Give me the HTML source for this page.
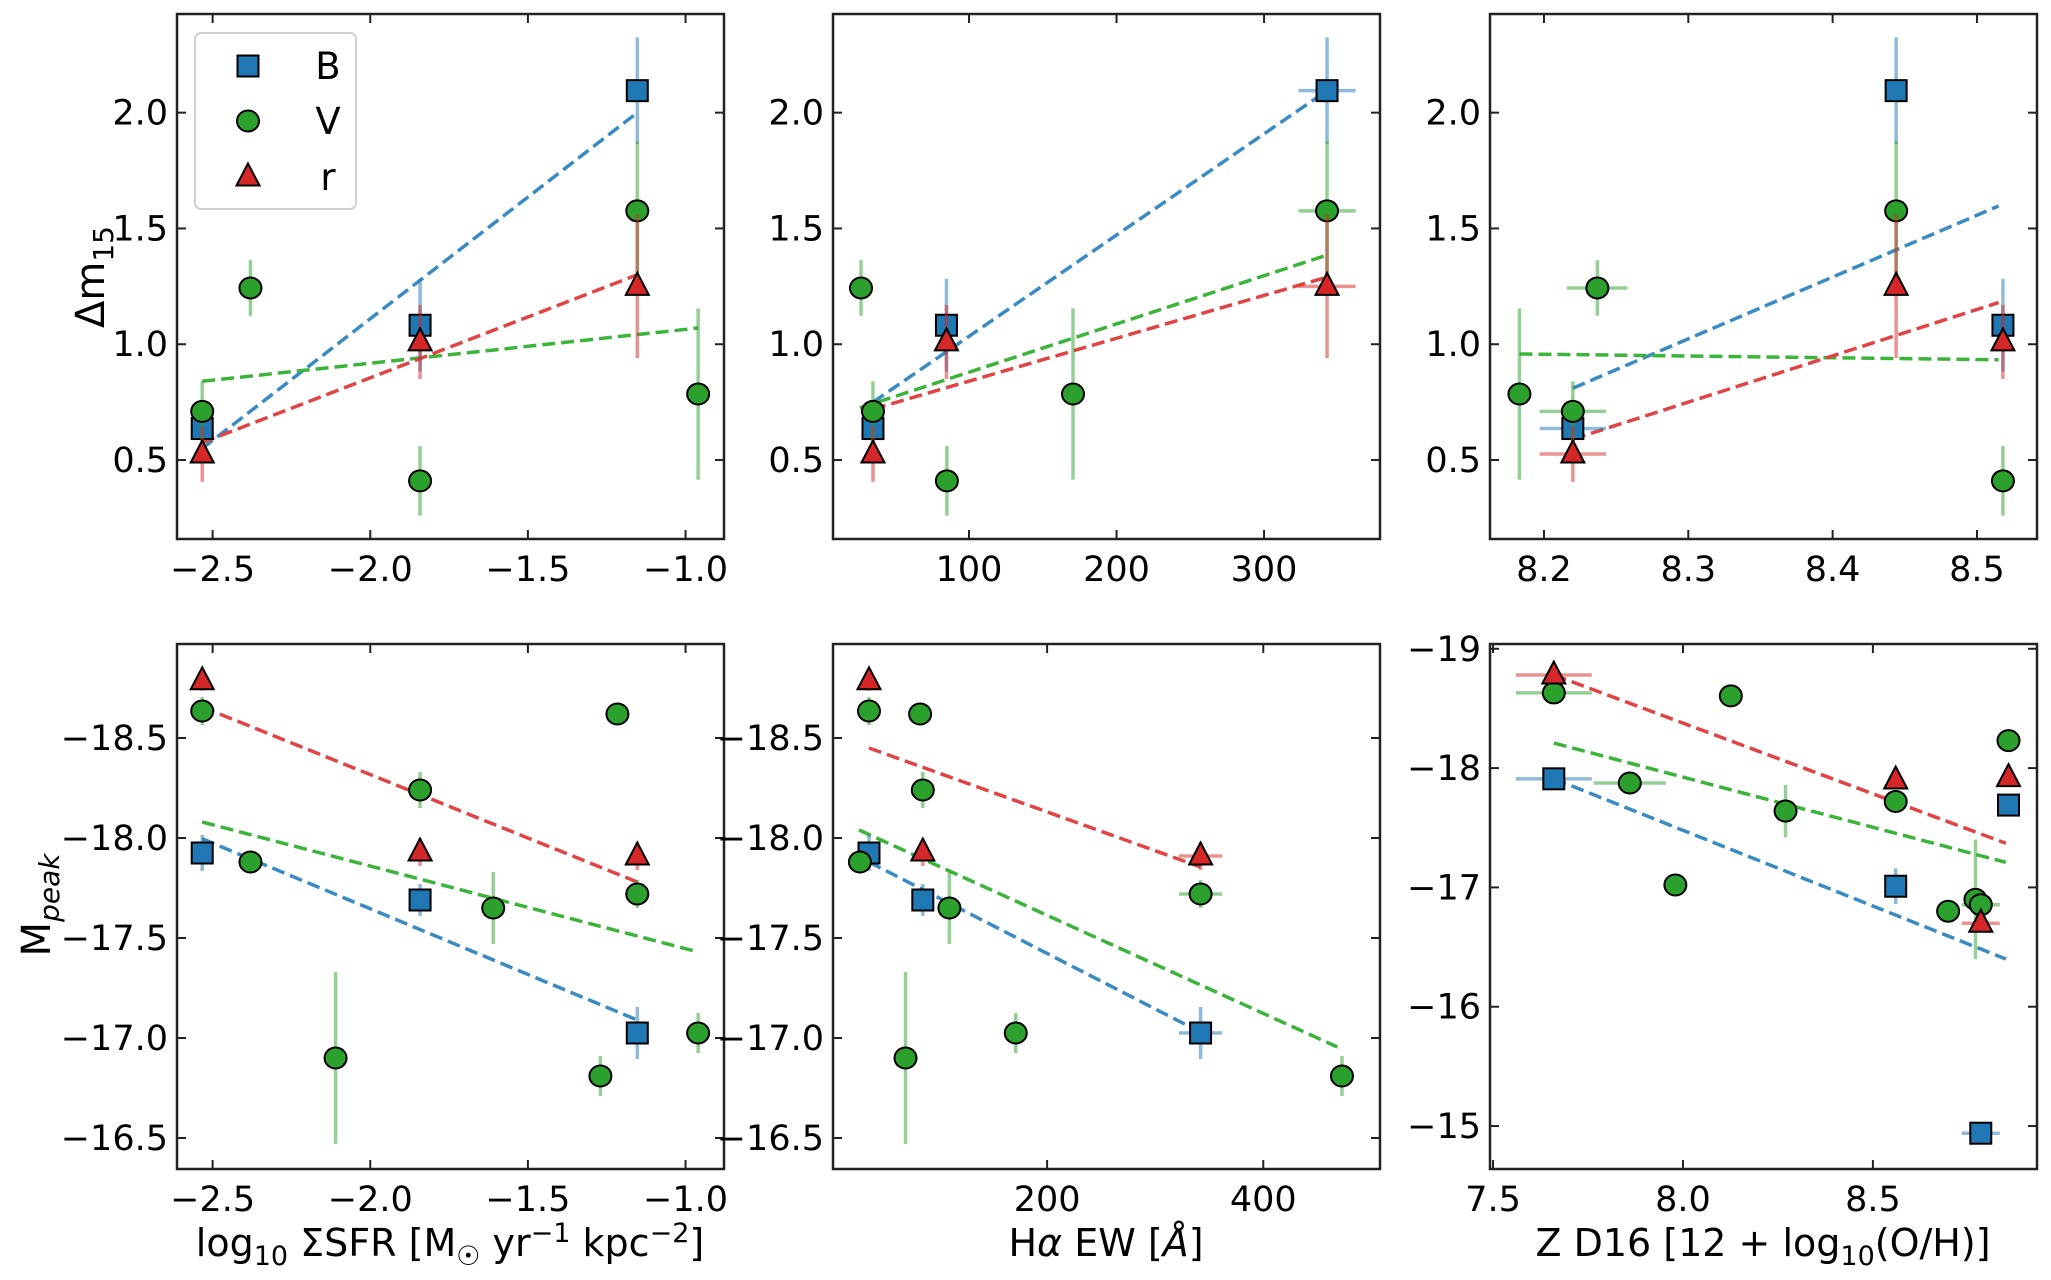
<!DOCTYPE html>
<html><head><meta charset="utf-8">
<style>
html,body{margin:0;padding:0;background:#fff;}
svg{display:block;font-family:"DejaVu Sans","Liberation Sans",sans-serif;}
</style></head>
<body>
<svg id="fig" width="2051" height="1280" viewBox="0 0 2051 1280" xmlns="http://www.w3.org/2000/svg"></svg>
<script>
// ---------- DATA ----------
const dmB_y = [0.636, 1.082, 2.095];
const dmB_err = [0.12, 0.2, 0.23];
const dmV_y = [0.71, 1.243, 0.41, 1.576, 0.785];
const dmV_err = [0.13, 0.12, 0.15, 0.3, 0.37];
const dmr_y = [0.526, 1.01, 1.25];
const dmr_err = [0.12, 0.16, 0.31];

const sfrB_x = [-2.533, -1.842, -1.153];
const sfrV_x = [-2.533, -2.38, -1.842, -1.153, -0.96];
const sfrr_x = [-2.533, -1.842, -1.153];
const ewB_x = [34.9, 84.7, 342.7];
const ewV_x = [34.9, 26.8, 85, 342.7, 170.5];
const ewr_x = [34.9, 84.7, 342.7];
const ewB_xerr = [0, 0, 19.4];
const ewV_xerr = [0, 0, 0, 19.4, 0];
const ewr_xerr = [0, 0, 19.4];
const zB_x = [8.22, 8.518, 8.444];
const zV_x = [8.22, 8.237, 8.518, 8.444, 8.183];
const zr_x = [8.22, 8.518, 8.444];
const zB_xerr = [0.023, 0, 0];
const zV_xerr = [0.023, 0.021, 0, 0, 0];
const zr_xerr = [0.023, 0, 0];

const fitSfrDm = {B:[-2.533,-1.153,0.55,2.0], V:[-2.533,-0.96,0.84,1.07], r:[-2.533,-1.153,0.575,1.30]};
const fitEwDm = {B:[34.9,342.7,0.75,2.095], V:[26,342.7,0.725,1.385], r:[34.9,342.7,0.72,1.29]};
const fitZDm = {B:[8.22,8.515,0.81,1.597], V:[8.183,8.515,0.958,0.933], r:[8.22,8.515,0.59,1.18]};

const sfrB2_x = [-2.533, -1.842, -1.153];
const sfrB2_y = [-17.925, -17.69, -17.025];
const sfrB2_err = [0.09, 0.08, 0.13];
const sfrr2_x = [-2.533, -1.842, -1.153];
const sfrr2_y = [-18.786, -17.93, -17.91];
const sfrr2_err = [0.05, 0.07, 0.07];
const sfrV2_x = [-2.533, -2.38, -2.11, -1.842, -1.61, -1.27, -1.216, -1.153, -0.96];
const sfrV2_y = [-18.635, -17.88, -16.9, -18.24, -17.65, -16.81, -18.62, -17.72, -17.025];
const sfrV2_err = [0.07, 0.03, 0.43, 0.09, 0.18, 0.1, 0.03, 0.07, 0.1];

const ewB2_x = [35.2, 85, 342];
const ewB2_y = [-17.925, -17.69, -17.025];
const ewB2_xerr = [0, 0, 20];
const ewB2_err = [0.09, 0.08, 0.13];
const ewr2_x = [35.2, 85, 342];
const ewr2_y = [-18.786, -17.93, -17.91];
const ewr2_xerr = [0, 0, 20];
const ewr2_err = [0.05, 0.07, 0.07];
const ewV2_x = [35.2, 26.8, 69, 82.5, 85, 109.6, 171, 342, 472.8];
const ewV2_y = [-18.635, -17.88, -16.9, -18.62, -18.24, -17.65, -17.025, -17.72, -16.81];
const ewV2_xerr = [0, 0, 0, 0, 0, 0, 0, 20, 10];
const ewV2_err = [0.07, 0.03, 0.43, 0.03, 0.09, 0.18, 0.1, 0.07, 0.1];

const zB2_x = [7.66, 8.56, 8.857, 8.784];
const zB2_y = [-17.91, -17.01, -17.69, -14.94];
const zB2_xerr = [0.1, 0, 0, 0.05];
const zB2_err = [0.03, 0.15, 0.03, 0.03];
const zr2_x = [7.66, 8.56, 8.857, 8.784];
const zr2_y = [-18.78, -17.90, -17.92, -16.70];
const zr2_xerr = [0.1, 0, 0, 0.05];
const zr2_err = [0.03, 0.05, 0.03, 0.05];
const zV2_x = [7.66, 7.86, 7.98, 8.126, 8.27, 8.56, 8.698, 8.77, 8.784, 8.857];
const zV2_y = [-18.63, -17.875, -17.02, -18.605, -17.64, -17.72, -16.80, -16.90, -16.855, -18.23];
const zV2_xerr = [0.1, 0.095, 0, 0, 0, 0, 0, 0, 0.05, 0];
const zV2_err = [0.03, 0.03, 0.05, 0.03, 0.22, 0.05, 0.03, 0.5, 0.03, 0.03];

const fitSfrM = {B:[-2.533,-1.153,-17.996,-17.09], V:[-2.533,-0.96,-18.08,-17.43], r:[-2.533,-1.153,-18.655,-17.78]};
const fitEwM = {B:[35.2,338,-17.88,-17.04], V:[26,468.5,-18.04,-16.955], r:[35.2,342,-18.45,-17.855]};
const fitZM = {B:[7.66,8.85,-17.91,-16.40], V:[7.66,8.85,-18.21,-17.21], r:[7.66,8.85,-18.78,-17.37]};

const ticksSfr = [-2.5, -2.0, -1.5, -1.0];
const tickLabSfr = ["\u22122.5", "\u22122.0", "\u22121.5", "\u22121.0"];
const ticksEwTop = [100, 200, 300];
const ticksEwBot = [200, 400];
const ticksZTop = [8.2, 8.3, 8.4, 8.5];
const tickLabZTop = ["8.2", "8.3", "8.4", "8.5"];
const ticksZBot = [7.5, 8.0, 8.5];
const tickLabZBot = ["7.5", "8.0", "8.5"];
const ticksDm = [0.5, 1.0, 1.5, 2.0];
const tickLabDm = ["0.5", "1.0", "1.5", "2.0"];
const ticksM = [-18.5, -18.0, -17.5, -17.0, -16.5];
const tickLabM = ["\u221218.5", "\u221218.0", "\u221217.5", "\u221217.0", "\u221216.5"];
const ticksM3 = [-19, -18, -17, -16, -15];
const tickLabM3 = ["\u221219", "\u221218", "\u221217", "\u221216", "\u221215"];

// ---------- DRAW ----------
const NS = "http://www.w3.org/2000/svg";
const svg = document.getElementById("fig");
const COL = {B:"#1f77b4", V:"#2ca02c", r:"#d62728"};
const FIT = {B:"#3a8ac4", V:"#3cb43c", r:"#e04444"};
const TICKFS = 35;
function mk(tag, attrs, parent) {
  const e = document.createElementNS(NS, tag);
  for (const k in attrs) e.setAttribute(k, attrs[k]);
  (parent || svg).appendChild(e);
  return e;
}
function scale(d0, d1, p0, p1) { return v => p0 + (v - d0) * (p1 - p0) / (d1 - d0); }

function panel(cfg) {
  const g = mk("g", {});
  
  
  const {L, R, T, B} = cfg.box;
  const sx = scale(cfg.xd[0], cfg.xd[1], L, R);
  const sy = scale(cfg.yd[0], cfg.yd[1], B, T);
  const fg = mk("g", {}, g);
  
  
  ["B","V","r"].forEach(b => {
    const f = cfg.fits[b];
    const ln = mk("line", {x1: sx(f[0]), x2: sx(f[1]), y1: sy(f[2]), y2: sy(f[3]), stroke: FIT[b], "stroke-width": 3.5, "stroke-dasharray": "13,6"}, fg);
    
    
  });
  cfg.series.forEach(s => {
    const sg = mk("g", {}, g);
    
    
    s.x.forEach((xv, i) => {
      const px = sx(xv), py = sy(s.y[i]);
      const ye = s.yerr ? s.yerr[i] : 0, xe = s.xerr ? s.xerr[i] : 0;
      if (ye > 0) {
        const el = mk("line", {x1: px, x2: px, y1: sy(s.y[i] - ye), y2: sy(s.y[i] + ye), stroke: COL[s.band], "stroke-opacity": 0.5, "stroke-width": 3.5}, sg);
        
        
      }
      if (xe > 0) {
        const el = mk("line", {x1: sx(xv - xe), x2: sx(xv + xe), y1: py, y2: py, stroke: COL[s.band], "stroke-opacity": 0.5, "stroke-width": 3.5}, sg);
        
        
      }
    });
    s.x.forEach((xv, i) => {
      const px = sx(xv), py = sy(s.y[i]);
      const m = marker(s.band, px, py, sg);
      
      
    });
  });
  const fr = mk("rect", {x: L, y: T, width: R - L, height: B - T, fill: "none", stroke: "#222", "stroke-width": 2.5}, g);
  
  
  cfg.xt.forEach((t, i) => {
    const px = sx(t);
    mk("line", {x1: px, x2: px, y1: B, y2: B - 9, stroke: "#222", "stroke-width": 2}, g);
    mk("line", {x1: px, x2: px, y1: T, y2: T + 9, stroke: "#222", "stroke-width": 2}, g);
    const tx = mk("text", {x: px, y: B + 42, "font-size": TICKFS, "text-anchor": "middle", fill: "#000"}, g);
    tx.textContent = cfg.xl[i];
    
    
  });
  cfg.yt.forEach((t, i) => {
    const py = sy(t);
    mk("line", {x1: L, x2: L + 9, y1: py, y2: py, stroke: "#222", "stroke-width": 2}, g);
    mk("line", {x1: R, x2: R - 9, y1: py, y2: py, stroke: "#222", "stroke-width": 2}, g);
    const tx = mk("text", {x: L - 9, y: py + 12, "font-size": TICKFS, "text-anchor": "end", fill: "#000"}, g);
    tx.textContent = cfg.yl[i];
    
    
  });
  return g;
}
function marker(b, x, y, parent) {
  const st = {fill: COL[b], stroke: "#000", "stroke-width": 2};
  if (b === "B") return mk("rect", Object.assign({x: x - 10.5, y: y - 10.5, width: 21, height: 21}, st), parent);
  if (b === "V") return mk("ellipse", Object.assign({cx: x, cy: y, rx: 11, ry: 10.5}, st), parent);
  return mk("polygon", Object.assign({points: `${x},${y-13.5} ${x-11.5},${y+8.5} ${x+11.5},${y+8.5}`}, st), parent);
}

const TOP = {T: 14, B: 539}, BOT = {T: 644, B: 1169};
const C1 = {L: 177, R: 724}, C2 = {L: 833, R: 1380}, C3 = {L: 1490, R: 2037};
const ew = ticksEwTop.map(String), ew2 = ticksEwBot.map(String);

panel({name: "panel-sfr-dm15", box: Object.assign({}, C1, TOP), xd: [-2.613, -0.878], yd: [0.159, 2.426],
  xt: ticksSfr, xl: tickLabSfr, yt: ticksDm, yl: tickLabDm, fits: fitSfrDm,
  series: [{band: "B", x: sfrB_x, y: dmB_y, yerr: dmB_err}, {band: "V", x: sfrV_x, y: dmV_y, yerr: dmV_err}, {band: "r", x: sfrr_x, y: dmr_y, yerr: dmr_err}]});
panel({name: "panel-ew-dm15", box: Object.assign({}, C2, TOP), xd: [7.8, 378.6], yd: [0.159, 2.426],
  xt: ticksEwTop, xl: ew, yt: ticksDm, yl: tickLabDm, fits: fitEwDm,
  series: [{band: "B", x: ewB_x, y: dmB_y, yerr: dmB_err, xerr: ewB_xerr}, {band: "V", x: ewV_x, y: dmV_y, yerr: dmV_err, xerr: ewV_xerr}, {band: "r", x: ewr_x, y: dmr_y, yerr: dmr_err, xerr: ewr_xerr}]});
panel({name: "panel-z-dm15", box: Object.assign({}, C3, TOP), xd: [8.1626, 8.5416], yd: [0.159, 2.426],
  xt: ticksZTop, xl: tickLabZTop, yt: ticksDm, yl: tickLabDm, fits: fitZDm,
  series: [{band: "B", x: zB_x, y: dmB_y, yerr: dmB_err, xerr: zB_xerr}, {band: "V", x: zV_x, y: dmV_y, yerr: dmV_err, xerr: zV_xerr}, {band: "r", x: zr_x, y: dmr_y, yerr: dmr_err, xerr: zr_xerr}]});
panel({name: "panel-sfr-mpeak", box: Object.assign({}, C1, BOT), xd: [-2.613, -0.878], yd: [-16.345, -18.97],
  xt: ticksSfr, xl: tickLabSfr, yt: ticksM, yl: tickLabM, fits: fitSfrM,
  series: [{band: "B", x: sfrB2_x, y: sfrB2_y, yerr: sfrB2_err}, {band: "V", x: sfrV2_x, y: sfrV2_y, yerr: sfrV2_err}, {band: "r", x: sfrr2_x, y: sfrr2_y, yerr: sfrr2_err}]});
panel({name: "panel-ew-mpeak", box: Object.assign({}, C2, BOT), xd: [1.9, 508], yd: [-16.345, -18.97],
  xt: ticksEwBot, xl: ew2, yt: ticksM, yl: tickLabM, fits: fitEwM,
  series: [{band: "B", x: ewB2_x, y: ewB2_y, yerr: ewB2_err, xerr: ewB2_xerr}, {band: "V", x: ewV2_x, y: ewV2_y, yerr: ewV2_err, xerr: ewV2_xerr}, {band: "r", x: ewr2_x, y: ewr2_y, yerr: ewr2_err, xerr: ewr2_xerr}]});
panel({name: "panel-z-mpeak", box: Object.assign({}, C3, BOT), xd: [7.492, 8.932], yd: [-14.64, -19.04],
  xt: ticksZBot, xl: tickLabZBot, yt: ticksM3, yl: tickLabM3, fits: fitZM,
  series: [{band: "B", x: zB2_x, y: zB2_y, yerr: zB2_err, xerr: zB2_xerr}, {band: "V", x: zV2_x, y: zV2_y, yerr: zV2_err, xerr: zV2_xerr}, {band: "r", x: zr2_x, y: zr2_y, yerr: zr2_err, xerr: zr2_xerr}]});

const lg = mk("g", {});


mk("rect", {x: 195, y: 33, width: 161, height: 176, rx: 6, fill: "#fff", "fill-opacity": 0.8, stroke: "#d0d0d0", "stroke-width": 2}, lg);
[["B", 66], ["V", 121], ["r", 177]].forEach(([b, yy]) => {
  const e = mk("g", {}, lg);
  
  
  marker(b, 248, yy, e);
  const t = mk("text", {x: 328, y: yy + 13, "font-size": 37, "text-anchor": "middle"}, e);
  t.textContent = b;
});
</script>
<svg style="position:absolute;left:0;top:0" width="2051" height="1280" font-family="DejaVu Sans, Liberation Sans, sans-serif">
  <text transform="translate(104,277) rotate(-90)" font-size="40" text-anchor="middle">Δm<tspan font-size="28" dy="9">15</tspan></text>
  <text transform="translate(50,905) rotate(-90)" font-size="40" text-anchor="middle">M<tspan font-size="28" dy="9" font-style="italic">peak</tspan></text>
  <text x="450" y="1256" font-size="38" text-anchor="middle">log<tspan font-size="27" dy="9">10</tspan><tspan dy="-9"> ΣSFR [M</tspan><tspan font-size="27" dy="9">☉</tspan><tspan dy="-9"> yr</tspan><tspan font-size="27" dy="-14">−1</tspan><tspan dy="14"> kpc</tspan><tspan font-size="27" dy="-14">−2</tspan><tspan dy="14">]</tspan></text>
  <text x="1106" y="1256" font-size="38" text-anchor="middle">H<tspan font-style="italic">α</tspan> EW [<tspan font-style="italic">Å</tspan>]</text>
  <text x="1763" y="1256" font-size="38" text-anchor="middle">Z D16 [12 + log<tspan font-size="27" dy="9">10</tspan><tspan dy="-9">(O/H)]</tspan></text>
</svg>
</body></html>
